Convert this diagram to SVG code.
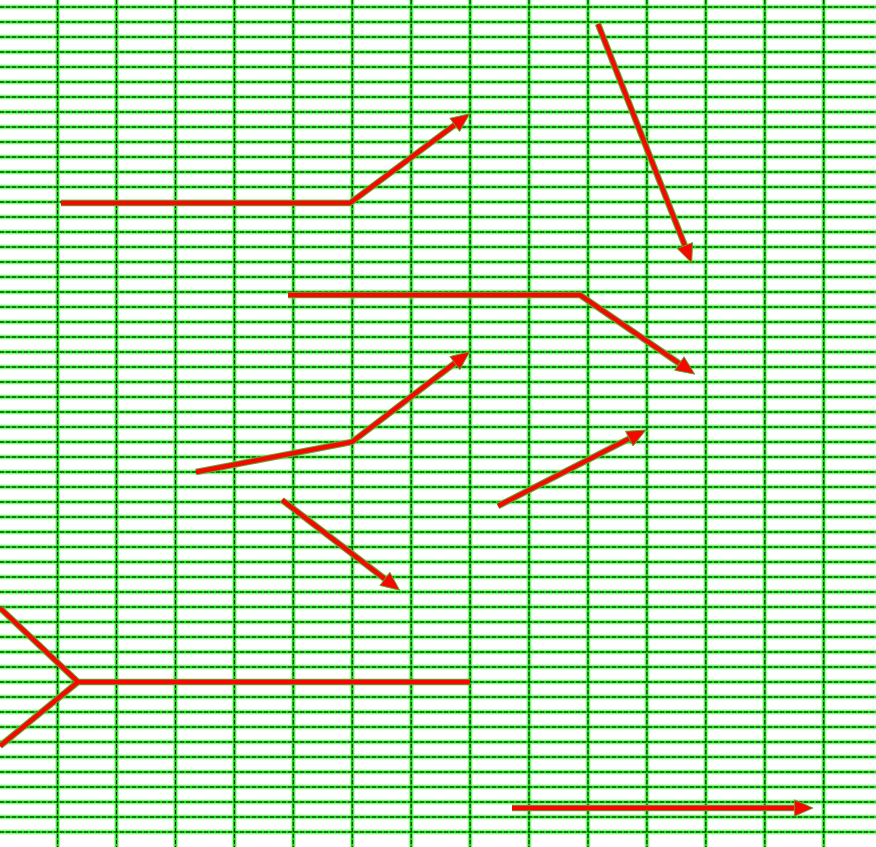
<svg xmlns="http://www.w3.org/2000/svg" xmlns:xlink="http://www.w3.org/1999/xlink" width="876" height="847" viewBox="0 0 876 847">
  <style>
    .halo { fill: none; stroke: #b4f8ac; stroke-width: 5; }
    .green { fill: none; stroke: #18dc18; stroke-width: 2.6; }
    .dash { fill: none; stroke: #000; stroke-width: 1; stroke-dasharray: 4 2; opacity: 0.85; }
    .eo { fill: none; stroke: #6aa632; stroke-width: 6.5; stroke-linejoin: miter; }
    .e { fill: none; stroke: #f40800; stroke-width: 4.4; stroke-linejoin: miter; }
  </style>
  <defs>
    <marker id="head" markerUnits="userSpaceOnUse" markerWidth="22" markerHeight="20" viewBox="-1 -9 20 18" refX="6" refY="0" orient="auto">
      <path d="M0,-7.5 L17,0 L0,7.5 z" fill="#f40800" stroke="#6aa632" stroke-width="0.8" stroke-linejoin="miter"/>
    </marker>
    <path id="grid" d="M0,7H876M0,22H876M0,37H876M0,52H876M0,67H876M0,82H876M0,97H876M0,112H876M0,127H876M0,142H876M0,157H876M0,172H876M0,187H876M0,202H876M0,217H876M0,232H876M0,247H876M0,262H876M0,277H876M0,292H876M0,307H876M0,322H876M0,337H876M0,352H876M0,367H876M0,382H876M0,397H876M0,412H876M0,427H876M0,442H876M0,457H876M0,472H876M0,487H876M0,502H876M0,517H876M0,532H876M0,547H876M0,562H876M0,577H876M0,592H876M0,607H876M0,622H876M0,637H876M0,652H876M0,667H876M0,682H876M0,697H876M0,712H876M0,727H876M0,742H876M0,757H876M0,772H876M0,787H876M0,802H876M0,817H876M0,832H876M57.6,0V847M116.5,0V847M175.5,0V847M234.4,0V847M293.3,0V847M352.3,0V847M411.2,0V847M470.1,0V847M529,0V847M588,0V847M646.9,0V847M705.8,0V847M764.8,0V847M823.7,0V847"/>
  </defs>
  <rect width="876" height="847" fill="#fff"/>
  <g id="grid-lines">
    <use xlink:href="#grid" class="halo"/>
    <use xlink:href="#grid" class="green"/>
    <use xlink:href="#grid" class="dash"/>
  </g>
  <g id="connectors">
    <path id="c1" class="eo" d="M61,203 L350,203 L460,121"/>
    <path class="e" d="M61,203 L350,203 L460,121" marker-end="url(#head)"/>
    <path id="c2" class="eo" d="M598,24 L687.3,251.7"/>
    <path class="e" d="M598,24 L687.3,251.7" marker-end="url(#head)"/>
    <path id="c3" class="eo" d="M288,295 L580,295 L684.8,367.3"/>
    <path class="e" d="M288,295 L580,295 L684.8,367.3" marker-end="url(#head)"/>
    <path id="c4" class="eo" d="M196,472 L352,442 L460.1,359.1"/>
    <path class="e" d="M196,472 L352,442 L460.1,359.1" marker-end="url(#head)"/>
    <path id="c5" class="eo" d="M282,500 L390.1,582.9"/>
    <path class="e" d="M282,500 L390.1,582.9" marker-end="url(#head)"/>
    <path id="c6" class="eo" d="M498,506 L635.1,435.6"/>
    <path class="e" d="M498,506 L635.1,435.6" marker-end="url(#head)"/>
    <path id="c7" class="eo" d="M0,608 L78,682 L0,746 M78,682 L470,682"/>
    <path class="e" d="M0,608 L78,682 L0,746 M78,682 L470,682"/>
    <path id="c8" class="eo" d="M512,808 L801,808"/>
    <path class="e" d="M512,808 L801,808" marker-end="url(#head)"/>
  </g>
</svg>
